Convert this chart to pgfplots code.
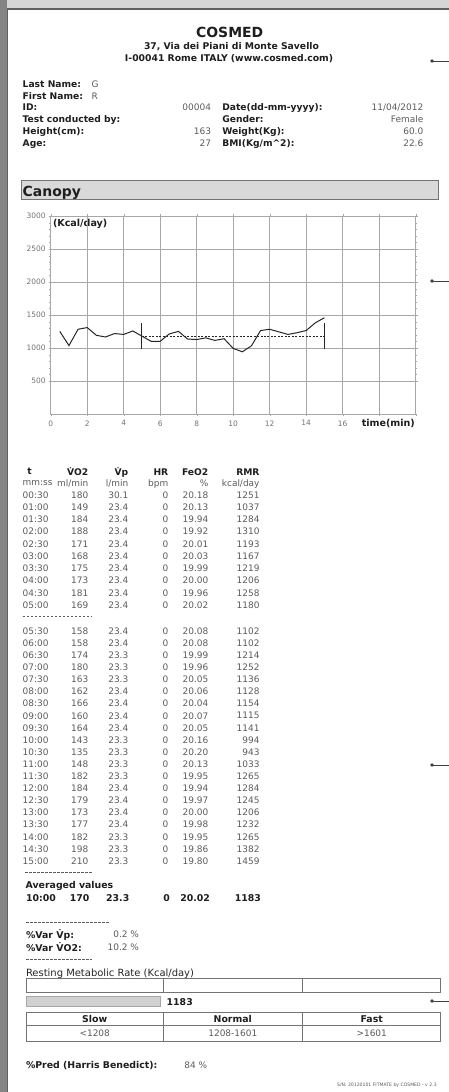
\documentclass[border=0pt]{standalone}
\usepackage{pgfplots}
\pgfplotsset{compat=1.18}
\usepackage{fontspec}
\setmainfont{DejaVu Sans}
\definecolor{txt}{HTML}{1E1E1E}
\definecolor{val}{HTML}{5C5C5C}
\definecolor{grd}{HTML}{A8A8A8}
\newcommand\fs[1]{\fontsize{#1}{#1}\selectfont}
\newcommand\VV{\.{V}}
\begin{document}
\begin{tikzpicture}[x=1bp,y=-1bp]
\useasboundingbox (0,0) rectangle (449,1092);
\fill[black!16] (0,0) rectangle (449,1092);
\fill[black!48] (0,0) rectangle (7,1092);
\fill[white] (7.5,9) rectangle (449,1092);
\draw[black!62, line width=1.2] (7.5,1092)--(7.5,9)--(449,9);
% right markers
\foreach \yy in {61,281,765,1001}{
  \fill[black!75] (432,\yy) circle (1.8);
  \draw[black!75, line width=0.9] (432,\yy)--(449,\yy);
}
\begin{scope}[every node/.style={inner sep=0pt, outer sep=0pt, text depth=0pt}]
% header
\node[txt, font=\bfseries\fs{14}] at (229.7,32.3) {COSMED};
\node[txt, font=\bfseries\fs{9.3}] at (231.5,45.7) {37, Via dei Piani di Monte Savello};
\node[txt, font=\bfseries\fs{9.3}] at (229,58.3) {I-00041 Rome ITALY (www.cosmed.com)};
% patient info
\begin{scope}[every node/.append style={font=\bfseries\fs{9.2}, text=txt, anchor=west}]
\node at (22.7,84.3) {Last Name:};
\node at (22.7,96.5) {First Name:};
\node at (22.7,107.3) {ID:};
\node at (22.7,119.5) {Test conducted by:};
\node at (22.7,131.3) {Height(cm):};
\node at (22.7,143.3) {Age:};
\node at (222.3,107.3) {Date(dd-mm-yyyy):};
\node at (222.3,119.5) {Gender:};
\node at (222.3,131.3) {Weight(Kg):};
\node at (222.3,143.3) {BMI(Kg/m\^{}2):};
\end{scope}
\begin{scope}[every node/.append style={font=\fs{9}, text=val}]
\node[anchor=west] at (91.7,84.3) {G};
\node[anchor=west] at (91.7,96.5) {R};
\node[anchor=east] at (211,107.3) {00004};
\node[anchor=east] at (211,131.3) {163};
\node[anchor=east] at (211,143.3) {27};
\node[anchor=east] at (423.3,107.3) {11/04/2012};
\node[anchor=east] at (423.3,119.5) {Female};
\node[anchor=east] at (423.3,131.3) {60.0};
\node[anchor=east] at (423.3,143.3) {22.6};
\end{scope}
% canopy bar
\draw[black!55, fill=black!15, line width=0.8] (21.7,180) rectangle (438.3,199);
\node[anchor=base west, font=\bfseries\fs{14}, text=txt] at (22.7,196.3) {Canopy};
% chart labels
\node[anchor=west, font=\bfseries\fs{9.6}, text=txt] at (53,222.7) {(Kcal/day)};
\node[font=\bfseries\fs{9.6}, text=txt] at (388.3,422.7) {time(min)};
% table header
\begin{scope}[every node/.append style={font=\bfseries\fs{9.2}, text=txt}]
\node[anchor=west] at (27.3,471.7) {t};
\node[anchor=east] at (88.3,471.7) {\VV O2};
\node[anchor=east] at (128.3,471.7) {\VV p};
\node[anchor=east] at (168.3,471.7) {HR};
\node[anchor=east] at (208.3,471.7) {FeO2};
\node[anchor=east] at (259.5,471.7) {RMR};
\end{scope}
\begin{scope}[every node/.append style={font=\fs{9}, text=val}]
\node[anchor=west] at (22.7,483.3) {mm:ss};
\node[anchor=east] at (88.3,483.3) {ml/min};
\node[anchor=east] at (128.3,483.3) {l/min};
\node[anchor=east] at (168.3,483.3) {bpm};
\node[anchor=east] at (208.3,483.3) {\%};
\node[anchor=east] at (259.5,483.3) {kcal/day};
\foreach \t/\a/\b/\c/\d/\e [count=\i from 0] in {
00:30/180/30.1/0/20.18/1251, 01:00/149/23.4/0/20.13/1037, 01:30/184/23.4/0/19.94/1284,
02:00/188/23.4/0/19.92/1310, 02:30/171/23.4/0/20.01/1193, 03:00/168/23.4/0/20.03/1167,
03:30/175/23.4/0/19.99/1219, 04:00/173/23.4/0/20.00/1206, 04:30/181/23.4/0/19.96/1258,
05:00/169/23.4/0/20.02/1180}{
  \pgfmathsetmacro\yy{495+12.22*\i}
  \node[anchor=west] at (22.7,\yy) {\t};
  \node[anchor=east] at (88.3,\yy) {\a};
  \node[anchor=east] at (128.3,\yy) {\b};
  \node[anchor=east] at (168.3,\yy) {\c};
  \node[anchor=east] at (208.3,\yy) {\d};
  \node[anchor=east] at (259.5,\yy) {\e};
}
\foreach \t/\a/\b/\c/\d/\e [count=\i from 0] in {
05:30/158/23.4/0/20.08/1102, 06:00/158/23.4/0/20.08/1102, 06:30/174/23.3/0/19.99/1214,
07:00/180/23.3/0/19.96/1252, 07:30/163/23.3/0/20.05/1136, 08:00/162/23.4/0/20.06/1128,
08:30/166/23.4/0/20.04/1154, 09:00/160/23.4/0/20.07/1115, 09:30/164/23.4/0/20.05/1141,
10:00/143/23.3/0/20.16/994, 10:30/135/23.3/0/20.20/943, 11:00/148/23.3/0/20.13/1033,
11:30/182/23.3/0/19.95/1265, 12:00/184/23.4/0/19.94/1284, 12:30/179/23.4/0/19.97/1245,
13:00/173/23.4/0/20.00/1206, 13:30/177/23.4/0/19.98/1232, 14:00/182/23.3/0/19.95/1265,
14:30/198/23.3/0/19.86/1382, 15:00/210/23.3/0/19.80/1459}{
  \pgfmathsetmacro\yy{631+12.1*\i}
  \node[anchor=west] at (22.7,\yy) {\t};
  \node[anchor=east] at (88.3,\yy) {\a};
  \node[anchor=east] at (128.3,\yy) {\b};
  \node[anchor=east] at (168.3,\yy) {\c};
  \node[anchor=east] at (208.3,\yy) {\d};
  \node[anchor=east] at (259.5,\yy) {\e};
}
\node[anchor=east] at (139,934) {0.2 \%};
\node[anchor=east] at (139,947.3) {10.2 \%};
\node[anchor=west] at (184.3,1065) {84 \%};
\node[anchor=center] at (94.7,1033.3) {<1208};
\node[anchor=center] at (232.8,1033.3) {1208-1601};
\node[anchor=center] at (371.7,1033.3) {>1601};
\end{scope}
% separators
\begin{scope}[val, line width=0.7, dash pattern=on 2.6bp off 1.4bp]
\draw (22.7,616.7)--(91.7,616.7);
\draw (25,872.7)--(92,872.7);
\draw (26,922.3)--(109,922.3);
\draw (26,959.3)--(92,959.3);
\end{scope}
% averaged
\begin{scope}[every node/.append style={font=\bfseries\fs{9.4}, text=txt}]
\node[anchor=west] at (25.7,885) {Averaged values};
\node[anchor=west] at (26,897.7) {10:00};
\node[anchor=east] at (89.3,897.7) {170};
\node[anchor=east] at (129.3,897.7) {23.3};
\node[anchor=east] at (170,897.7) {0};
\node[anchor=east] at (210,897.7) {20.02};
\node[anchor=east] at (261,897.7) {1183};
\node[anchor=west] at (26,934) {\%Var \VV p:};
\node[anchor=west] at (26,947.3) {\%Var \VV O2:};
\node[anchor=west] at (166.7,1001.7) {1183};
\node at (94.7,1018.6) {Slow};
\node at (232.8,1018.6) {Normal};
\node at (371.7,1018.6) {Fast};
\node[anchor=west] at (26,1065) {\%Pred (Harris Benedict):};
\end{scope}
\node[anchor=west, font=\fs{10}, text=black!85] at (26,972.7) {Resting Metabolic Rate (Kcal/day)};
\node[anchor=east, font=\fs{4.6}, text=val] at (436.7,1084.3) {S/N: 20120101 FITMATE by COSMED - v 2.3};
\end{scope}
% RMR tables
\begin{scope}[black!55, line width=0.7]
\draw (26,978.3) rectangle (440.7,992.3);
\draw (163.3,978.3)--(163.3,992.3) (302.3,978.3)--(302.3,992.3);
\draw (26,1012.3) rectangle (440.7,1041);
\draw (26,1025.7)--(440.7,1025.7);
\draw (163.3,1012.3)--(163.3,1041) (302.3,1012.3)--(302.3,1041);
\draw[black!35, fill=black!18] (26,996) rectangle (160,1006.7);
\end{scope}
% chart
\begin{axis}[at={(50.7bp,-414bp)}, anchor=south west, scale only axis,
  width=365bp, height=198bp,
  xmin=0, xmax=20, ymin=0, ymax=3000,
  xtick={0,2,...,20}, xticklabels={0,2,4,6,8,10,12,14,16,,},
  ytick={500,1000,...,3000},
  minor y tick num=4,
  grid=major, major grid style={grd, line width=0.6pt},
  axis line style={grd, line width=0.7pt},
  tick style={grd}, tick align=outside,
  major tick length=2bp, minor tick length=1.5bp,
  ticklabel style={font=\fs{7.5}, text=black!55},
  /pgf/number format/assume math mode=true,
  /pgf/number format/1000 sep={},
  xticklabel style={yshift=-1bp},
  yticklabel style={xshift=0.5bp},
]
\addplot[black!85, line width=1pt] coordinates {
(0.5,1251) (1,1037) (1.5,1284) (2,1310) (2.5,1193) (3,1167) (3.5,1219) (4,1206)
(4.5,1258) (5,1180) (5.5,1102) (6,1102) (6.5,1214) (7,1252) (7.5,1136) (8,1128)
(8.5,1154) (9,1115) (9.5,1141) (10,994) (10.5,943) (11,1033) (11.5,1265) (12,1284)
(12.5,1245) (13,1206) (13.5,1232) (14,1265) (14.5,1382) (15,1459)};
\addplot[black!85, line width=0.8pt, dash pattern=on 2pt off 1.5pt] coordinates {(5,1183) (15,1183)};
\addplot[black!85, line width=1pt] coordinates {(5,980) (5,1385)};
\addplot[black!85, line width=1pt] coordinates {(15,980) (15,1385)};
\end{axis}
\end{tikzpicture}
\end{document}
